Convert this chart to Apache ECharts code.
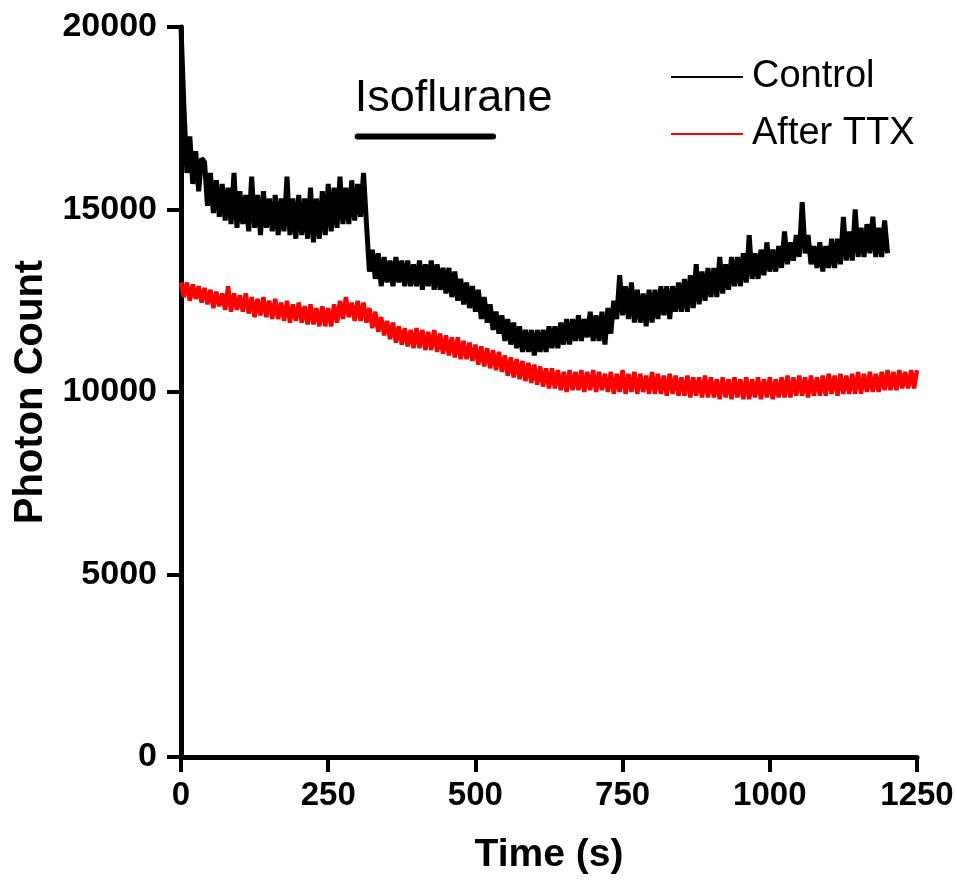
<!DOCTYPE html>
<html>
<head>
<meta charset="utf-8">
<script src="https://cdn.jsdelivr.net/npm/echarts@6/dist/echarts.min.js"></script>
<style>
  html, body { margin: 0; padding: 0; background: #fff; }
  #chart { width: 957px; height: 880px; }
</style>
</head>
<body>
<div id="chart"></div>
<script>
// sample step of the recordings (s)
const stepSec = 5;

// Control trace, one value every 5 s from 0 to 1200 s
const controlCounts = [
  20000,17800,16000,17000,15700,16600,15500,16400,16300,15100,
  16000,14900,15800,14800,15700,14700,15600,14600,16000,14500,
  15500,14600,15400,14400,15900,14500,15400,14300,15500,14500,
  15300,14400,15400,14300,15300,14400,15900,14300,15300,14200,
  15400,14300,15300,14200,15600,14100,15300,14200,15500,14300,
  15700,14400,15600,14500,15900,14600,15600,14600,15800,14700,
  15700,14800,16000,14600,13300,13900,13100,13800,12900,13700,
  13000,13600,12900,13700,13000,13600,12900,13600,12900,13500,
  12900,13600,12800,13500,12900,13600,12800,13500,12800,13400,
  12700,13400,12600,13300,12500,13100,12400,13000,12300,12900,
  12200,12800,12000,12600,11900,12400,11700,12200,11600,12100,
  11400,12000,11300,11900,11200,11800,11100,11700,11100,11700,
  11000,11700,11100,11700,11100,11800,11200,11800,11200,11900,
  11300,12000,11300,12000,11400,12100,11400,12000,11500,12200,
  11400,12100,11400,12200,11300,12300,11600,12500,12000,13200,
  12100,12900,12000,13000,11900,12800,11900,12700,11800,12800,
  11900,12800,12000,12900,12100,12900,12000,12900,12200,13000,
  12200,13100,12200,13200,12300,13500,12400,13300,12500,13400,
  12600,13400,12600,13700,12700,13500,12800,13700,12900,13700,
  12900,13800,13000,14300,13100,13800,13100,13900,13200,14100,
  13300,13900,13300,14000,13400,14400,13500,14100,13600,14300,
  13700,15200,13800,14300,13500,14000,13400,14100,13300,14000,
  13400,14200,13400,14200,13500,14800,13600,14400,13600,15000,
  13700,14500,13700,14600,13800,14800,13700,14500,13700,14700,
  13800
];

// After TTX trace, one value every 5 s from 0 to 1250 s
const ttxCounts = [
  13000,12600,13000,12500,12950,12550,12900,12450,12850,12400,
  12800,12300,12750,12350,12700,12250,12900,12200,12700,12250,
  12650,12200,12700,12150,12600,12050,12550,12100,12600,12050,
  12500,12000,12550,12000,12450,11950,12500,11900,12400,11950,
  12450,11900,12350,11850,12400,11850,12300,11800,12350,11800,
  12300,11800,12400,11900,12500,12000,12600,12050,12450,11950,
  12500,11950,12450,11900,12300,11750,12200,11650,12050,11550,
  11950,11450,11900,11350,11800,11300,11750,11250,11700,11200,
  11750,11200,11700,11150,11650,11150,11700,11100,11600,11050,
  11550,11000,11500,10950,11500,10900,11400,10900,11350,10850,
  11300,10750,11250,10700,11200,10650,11150,10600,11100,10550,
  11000,10450,10950,10400,10900,10350,10850,10300,10800,10250,
  10750,10200,10700,10150,10650,10100,10650,10100,10600,10050,
  10550,10000,10600,10050,10550,10050,10600,10000,10550,10050,
  10600,10000,10550,10050,10500,10000,10550,9950,10500,10000,
  10600,9950,10500,10000,10550,9950,10500,10000,10450,9950,
  10550,9950,10500,9950,10450,9900,10500,9950,10450,9900,
  10400,9900,10450,9850,10400,9900,10400,9850,10450,9850,
  10400,9850,10350,9800,10400,9850,10350,9800,10400,9850,
  10350,9800,10400,9800,10350,9850,10400,9800,10350,9850,
  10400,9800,10350,9850,10400,9850,10450,9850,10400,9900,
  10450,9900,10400,9850,10450,9900,10400,9900,10450,9900,
  10500,9950,10450,9900,10500,9950,10450,9950,10500,9950,
  10550,9950,10500,10000,10550,10000,10500,10000,10550,10050,
  10600,10050,10550,10050,10600,10100,10550,10100,10600,10100,
  10600
];

// Isoflurane application bar (s) and its height on the count axis
const isoStart = 300;
const isoEnd = 530;
const isoLevel = 17000;
const isoLabelAt = [463, 18050];

const seriesNames = ['Control', 'After TTX'];
const xTicks = [0, 1250, 250];      // min, max, interval
const yTicks = [0, 20000, 5000];

const fontFam = "'Liberation Sans', Arial, sans-serif";

function toPairs(values) {
  return values.map((v, i) => [i * stepSec, v]);
}

const chart = echarts.init(document.getElementById('chart'));

const option = {
  animation: false,
  backgroundColor: '#ffffff',
  grid: { left: 181, right: 40, top: 27, bottom: 118, containLabel: false },
  legend: {
    data: seriesNames,
    orient: 'vertical',
    left: 666,
    top: 52,
    icon: 'rect',
    itemWidth: 72,
    itemHeight: 2,
    itemGap: 17,
    textStyle: { fontFamily: fontFam, fontSize: 38, color: '#000', lineHeight: 40, padding: [0, 0, 0, 4] }
  },
  xAxis: {
    type: 'value',
    min: xTicks[0],
    max: xTicks[1],
    interval: xTicks[2],
    name: 'Time (s)',
    nameLocation: 'middle',
    nameGap: 79,
    nameTextStyle: { fontFamily: fontFam, fontSize: 39, fontWeight: 'bold', color: '#000' },
    axisLine: { onZero: false, lineStyle: { color: '#000', width: 5 } },
    axisTick: { show: true, length: 15, lineStyle: { color: '#000', width: 4 } },
    axisLabel: {
      margin: 22, fontFamily: fontFam, fontSize: 33, fontWeight: 'bold', color: '#000',
      formatter: (v) => String(v)
    },
    splitLine: { show: false }
  },
  yAxis: {
    type: 'value',
    min: yTicks[0],
    max: yTicks[1],
    interval: yTicks[2],
    name: 'Photon Count',
    nameLocation: 'middle',
    nameRotate: 90,
    nameGap: 130,
    nameTextStyle: { fontFamily: fontFam, fontSize: 40, fontWeight: 'bold', color: '#000' },
    axisLine: { show: true, lineStyle: { color: '#000', width: 5 } },
    axisTick: { show: true, length: 14, lineStyle: { color: '#000', width: 4 } },
    axisLabel: {
      margin: 24, fontFamily: fontFam, fontSize: 34, fontWeight: 'bold', color: '#000',
      formatter: (v) => String(v)
    },
    splitLine: { show: false }
  },
  series: [
    {
      name: 'Control',
      type: 'line',
      data: toPairs(controlCounts),
      showSymbol: false,
      sampling: null,
      lineStyle: { color: '#000000', width: 5, join: 'bevel' },
      itemStyle: { color: '#000000' },
      z: 2
    },
    {
      name: 'After TTX',
      type: 'line',
      data: toPairs(ttxCounts),
      showSymbol: false,
      lineStyle: { color: '#ff0000', width: 4.4, join: 'bevel' },
      itemStyle: { color: '#ff0000' },
      z: 3
    },
    {
      name: 'isoBar',
      type: 'line',
      data: [[isoStart, isoLevel], [isoEnd, isoLevel]],
      showSymbol: false,
      silent: true,
      lineStyle: { color: '#000', width: 6, cap: 'round' },
      z: 4
    },
    {
      name: 'isoLabel',
      type: 'scatter',
      data: [isoLabelAt],
      symbolSize: 1,
      silent: true,
      itemStyle: { color: 'rgba(0,0,0,0)', opacity: 1 },
      label: {
        show: true,
        position: 'inside',
        formatter: 'Isoflurane',
        fontFamily: fontFam,
        fontSize: 45,
        color: '#000',
        opacity: 1
      },
      z: 4
    }
  ]
};

chart.setOption(option);
</script>
</body>
</html>
